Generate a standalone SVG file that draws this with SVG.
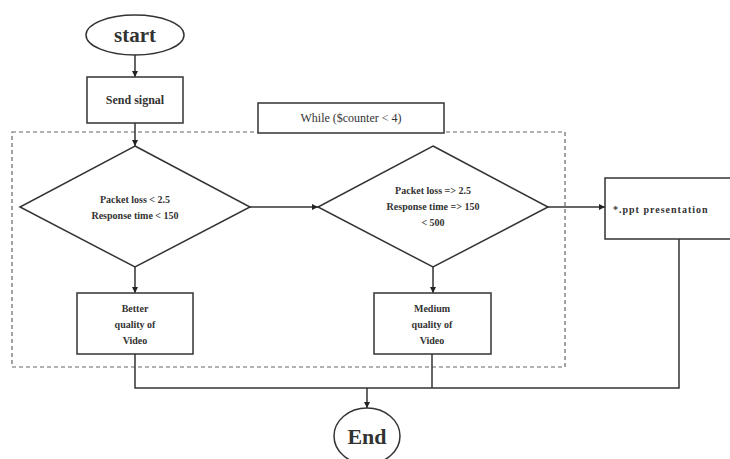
<svg xmlns="http://www.w3.org/2000/svg" width="730" height="459" viewBox="0 0 730 459">
<defs>
<style>
.s{fill:#fff;stroke:#333;stroke-width:1.5}
.c{fill:none;stroke:#333;stroke-width:1.5}
.t{font-family:"Liberation Serif","Times New Roman",serif;font-weight:bold;fill:#333;text-anchor:middle}
.l{text-anchor:start}
</style>
<marker id="a" viewBox="0 0 10 10" refX="10" refY="5" markerWidth="6" markerHeight="6" orient="auto" markerUnits="userSpaceOnUse"><path d="M0,0 L10,5 L0,10 z" fill="#222"/></marker>
</defs>
<rect width="730" height="459" fill="#fff"/>
<rect x="12" y="132" width="553" height="235" fill="none" stroke="#666" stroke-width="1.2" stroke-dasharray="4,3"/>
<g id="connectors">
<line class="c" x1="135" y1="55" x2="135" y2="77" marker-end="url(#a)"/>
<line class="c" x1="135" y1="123" x2="135" y2="146" marker-end="url(#a)"/>
<line class="c" x1="250" y1="207" x2="318" y2="207" marker-end="url(#a)"/>
<line class="c" x1="548" y1="207" x2="605" y2="207" marker-end="url(#a)"/>
<line class="c" x1="135" y1="267" x2="135" y2="293" marker-end="url(#a)"/>
<line class="c" x1="433" y1="267" x2="433" y2="293" marker-end="url(#a)"/>
<polyline class="c" points="135,354 135,388 679,388 679,239"/>
<line class="c" x1="432" y1="354" x2="432" y2="388"/>
<line class="c" x1="367" y1="388" x2="367" y2="408" marker-end="url(#a)"/>
</g>
<g id="start"><ellipse class="s" cx="135" cy="35" rx="49" ry="20"/><text class="t" x="135" y="42" font-size="21">start</text></g>
<g id="send"><rect class="s" x="87" y="77" width="96" height="46"/><text class="t" x="135" y="104" font-size="12">Send signal</text></g>
<g id="while"><rect class="s" x="258" y="103" width="186" height="30"/><text class="t" x="351" y="122" font-size="12" style="font-weight:normal">While ($counter &lt; 4)</text></g>
<g id="d1"><polygon class="s" points="135,146 250,207 135,267 20,207"/><text class="t" x="135" y="203" font-size="10">Packet loss &lt; 2.5</text><text class="t" x="135" y="219" font-size="10">Response time &lt; 150</text></g>
<g id="d2"><polygon class="s" points="433,146 548,207 433,267 318,207"/><text class="t" x="433" y="194" font-size="10">Packet loss =&gt; 2.5</text><text class="t" x="433" y="210" font-size="10">Response time =&gt; 150</text><text class="t" x="433" y="226" font-size="10">&lt; 500</text></g>
<g id="ppt"><rect class="s" x="605" y="178" width="130" height="61"/><text class="t l" x="613" y="213" font-size="10" letter-spacing="1">*.ppt presentation</text></g>
<g id="better"><rect class="s" x="77" y="293" width="116" height="61"/><text class="t" x="135" y="312" font-size="10">Better</text><text class="t" x="135" y="328" font-size="10">quality of</text><text class="t" x="135" y="344" font-size="10">Video</text></g>
<g id="medium"><rect class="s" x="374" y="293" width="117" height="61"/><text class="t" x="432" y="312" font-size="10">Medium</text><text class="t" x="432" y="328" font-size="10">quality of</text><text class="t" x="432" y="344" font-size="10">Video</text></g>
<g id="end"><ellipse class="s" cx="367" cy="436" rx="33" ry="28"/><text class="t" x="367" y="444" font-size="22">End</text></g>
</svg>
